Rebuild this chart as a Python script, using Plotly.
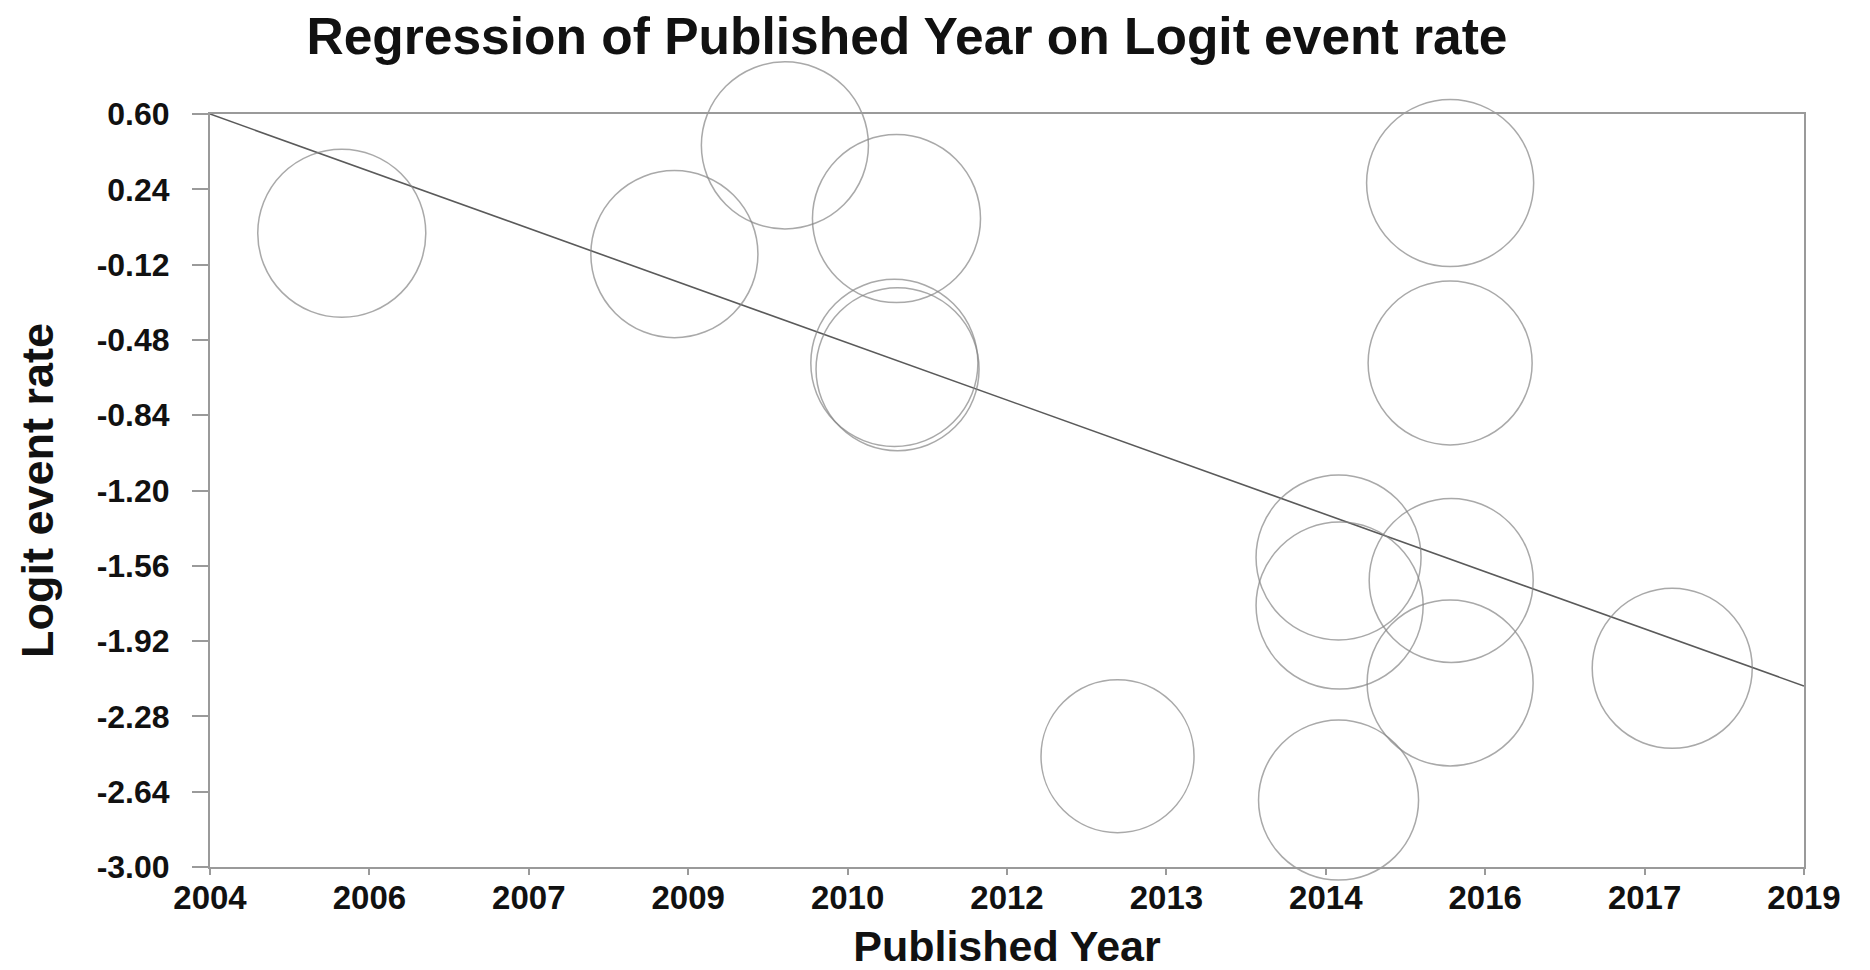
import numpy as np
import plotly.graph_objects as go

# Study-level data: publication year (axis units), logit event rate, relative weight (%)
published_year = [2005.24, 2008.37, 2009.41, 2010.46, 2010.44, 2010.47, 2012.54,
                  2014.62, 2014.63, 2014.62, 2015.67, 2015.67, 2015.68, 2015.67, 2017.76]
logit_event_rate = [0.03, -0.07, 0.45, 0.10, -0.59, -0.62, -2.47,
                    -1.52, -1.75, -2.68, 0.27, -0.59, -1.63, -2.12, -2.05]
weight_pct = [6.96, 6.88, 6.88, 6.96, 6.88, 6.55, 5.77,
              6.71, 6.88, 6.31, 6.88, 6.63, 6.63, 6.79, 6.31]

# Fitted meta-regression line (end points over the axis range)
fit_year = [2004, 2019]
fit_logit = [0.60, -2.135]

# Axis tick labels
x_tick_labels = ["2004", "2006", "2007", "2009", "2010", "2012",
                 "2013", "2014", "2016", "2017", "2019"]
y_tick_labels = ["0.60", "0.24", "-0.12", "-0.48", "-0.84", "-1.20",
                 "-1.56", "-1.92", "-2.28", "-2.64", "-3.00"]

X_MIN, X_MAX = 2004, 2019
Y_MIN, Y_MAX = -3.00, 0.60

x_ticks = np.linspace(X_MIN, X_MAX, len(x_tick_labels))
y_ticks = np.linspace(Y_MAX, Y_MIN, len(y_tick_labels))

# Bubble diameter grows with the square root of the study weight
bubble_px = 63.7 * np.sqrt(np.array(weight_pct))

FONT = "Arial, 'Liberation Sans', Helvetica, sans-serif"
AXIS_GREY = "#9a9a9a"
TEXT = "#111111"

fig = go.Figure()

fig.add_trace(go.Scatter(
    x=fit_year, y=fit_logit, mode="lines",
    line=dict(color="#5a5a5a", width=1.6),
    hoverinfo="skip", showlegend=False,
))

fig.add_trace(go.Scatter(
    x=published_year, y=logit_event_rate, mode="markers",
    marker=dict(size=bubble_px, sizemode="diameter", color="rgba(0,0,0,0)",
                line=dict(color="#858585", width=1.5)),
    cliponaxis=False, showlegend=False,
))

fig.update_layout(
    width=1870, height=970,
    margin=dict(l=210, r=66, t=114, b=103),
    paper_bgcolor="white", plot_bgcolor="white",
    font=dict(family=FONT, color=TEXT),
    title=dict(
        text="<b>Regression of Published Year on Logit event rate</b>",
        font=dict(size=51.5, family=FONT, color=TEXT),
        x=0.485, xanchor="center", xref="container",
        y=1 - 36 / 970, yanchor="middle", yref="container",
    ),
)

fig.update_xaxes(
    range=[X_MIN, X_MAX], automargin=False,
    tickmode="array", tickvals=x_ticks, ticktext=[f"<b>{t}</b>" for t in x_tick_labels],
    tickfont=dict(size=33, family=FONT, color=TEXT),
    ticks="outside", ticklen=6, tickwidth=1.5, tickcolor=AXIS_GREY,
    ticklabelstandoff=-6,
    showline=True, linecolor=AXIS_GREY, linewidth=2, mirror=True,
    showgrid=False, zeroline=False,
    title=dict(text="<b>Published Year</b>", font=dict(size=43, family=FONT, color=TEXT),
               standoff=22),
)

fig.update_yaxes(
    range=[Y_MIN, Y_MAX], automargin=False,
    tickmode="array", tickvals=y_ticks, ticktext=[f"<b>{t}</b>" for t in y_tick_labels],
    tickfont=dict(size=32, family=FONT, color=TEXT),
    ticks="outside", ticklen=16, tickwidth=1.5, tickcolor=AXIS_GREY,
    ticklabelstandoff=16,
    showline=True, linecolor=AXIS_GREY, linewidth=2, mirror=True,
    showgrid=False, zeroline=False,
    title=dict(text="<b>Logit event rate</b>", font=dict(size=45, family=FONT, color=TEXT),
               standoff=29),
)

fig.write_html("out.html")
